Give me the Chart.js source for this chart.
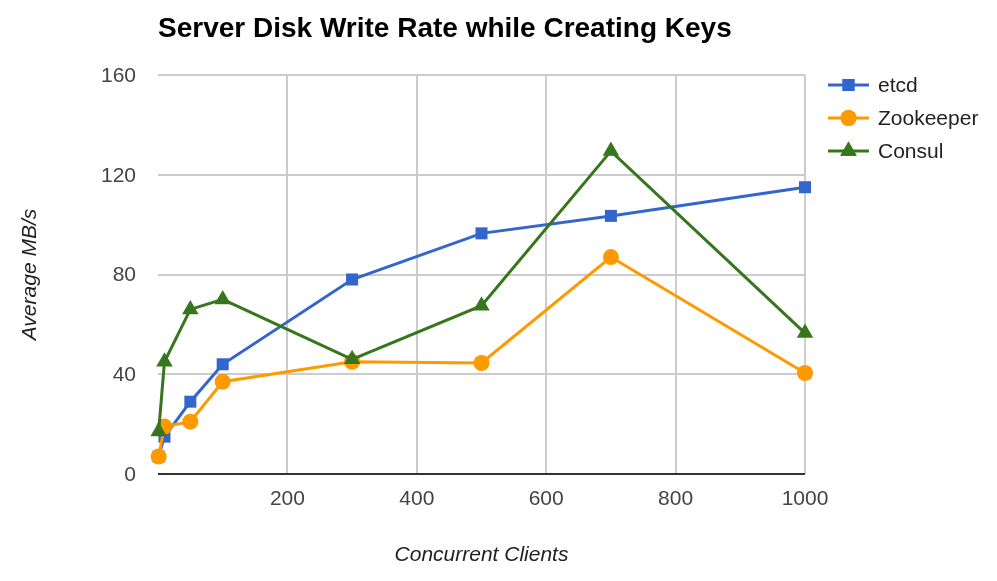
<!DOCTYPE html>
<html>
<head>
<meta charset="utf-8">
<script src="https://cdn.jsdelivr.net/npm/chart.js@4"></script>
<style>
  body { margin: 0; background: #fff; }
  #wrap { width: 997px; height: 581px; }
</style>
</head>
<body>
<div id="wrap"><canvas id="disk" width="997" height="581"></canvas></div>
<script>
// ---------- DATA ----------
const clients = [1, 10, 50, 100, 300, 500, 700, 1000];
const etcd = [7, 15, 29, 44, 78, 96.5, 103.5, 115];
const zookeeper = [7, 19, 21, 37, 45, 44.5, 87, 40.5];
const consul = [17, 45, 66, 70, 46, 67.5, 129.5, 56.5];
const yTicks = [0, 40, 80, 120, 160];
const xTicks = [200, 400, 600, 800, 1000];

const FONT = '"Liberation Sans", Arial, sans-serif';

function pts(vals){
  return vals.map((v, i) => ({ x: clients[i], y: v }));
}

const series = [
  { label: 'etcd', data: etcd, color: '#3366cc', style: 'rect', r: 8.5, order: 2 },
  { label: 'Zookeeper', data: zookeeper, color: '#ff9900', style: 'circle', r: 8, order: 1 },
  { label: 'Consul', data: consul, color: '#38761d', style: 'triangle', r: 9.5, order: 0 }
];

// title, axis titles and legend drawn around the plot area
const extras = {
  id: 'extras',
  afterDraw(chart){
    const ctx = chart.ctx;
    const area = chart.chartArea;
    ctx.save();
    ctx.fillStyle = '#000';
    ctx.font = 'bold 28px ' + FONT;
    ctx.textAlign = 'left';
    ctx.textBaseline = 'alphabetic';
    ctx.fillText('Server Disk Write Rate while Creating Keys', area.left, 37);

    ctx.fillStyle = '#222';
    ctx.font = 'italic 21px ' + FONT;
    ctx.textAlign = 'center';
    ctx.fillText('Concurrent Clients', (area.left + area.right) / 2, 561);
    ctx.translate(36, (area.top + area.bottom) / 2);
    ctx.rotate(-Math.PI / 2);
    ctx.fillText('Average MB/s', 0, 0);
    ctx.restore();

    // legend
    ctx.save();
    series.forEach((s, i) => {
      const y = 85 + i * 33;
      ctx.strokeStyle = s.color;
      ctx.lineWidth = 3;
      ctx.beginPath();
      ctx.moveTo(828, y);
      ctx.lineTo(869, y);
      ctx.stroke();
      ctx.fillStyle = s.color;
      Chart.helpers.drawPoint(ctx, { pointStyle: s.style, radius: s.r, rotation: 0, borderWidth: 0 }, 848.5, y);
      ctx.fill();
      ctx.fillStyle = '#222';
      ctx.font = '21px ' + FONT;
      ctx.textAlign = 'left';
      ctx.textBaseline = 'middle';
      ctx.fillText(s.label, 878, y + 1);
    });
    ctx.restore();
  }
};

new Chart(document.getElementById('disk'), {
  type: 'line',
  data: {
    datasets: series.map(s => ({
      label: s.label,
      data: pts(s.data),
      order: s.order,
      borderColor: s.color,
      backgroundColor: s.color,
      borderWidth: 3,
      pointStyle: s.style,
      pointRadius: s.r,
      pointBorderWidth: 0,
      pointBackgroundColor: s.color,
      tension: 0,
      fill: false,
      clip: false
    }))
  },
  options: {
    responsive: false,
    animation: false,
    events: [],
    layout: { padding: { left: 0, top: 75, right: 192, bottom: 0 } },
    plugins: {
      legend: { display: false },
      title: { display: false },
      tooltip: { enabled: false }
    },
    scales: {
      x: {
        type: 'linear',
        min: 0,
        max: 1000,
        afterFit(scale){ scale.height = 107; },
        afterBuildTicks(scale){ scale.ticks = [0].concat(xTicks).map(v => ({ value: v })); },
        border: { display: false },
        grid: {
          color: ctx => ctx.tick && ctx.tick.value === 0 ? 'rgba(0,0,0,0)' : '#cccccc',
          lineWidth: 2,
          drawTicks: false
        },
        ticks: {
          padding: 13,
          color: '#444',
          font: { family: FONT, size: 21 },
          maxRotation: 0,
          callback: v => v === 0 ? '' : v
        }
      },
      y: {
        min: 0,
        max: 160,
        afterFit(scale){ scale.width = 158; },
        afterBuildTicks(scale){ scale.ticks = yTicks.map(v => ({ value: v })); },
        border: { display: false },
        grid: {
          color: ctx => ctx.tick && ctx.tick.value === 0 ? '#333333' : '#cccccc',
          lineWidth: 2,
          drawTicks: false
        },
        ticks: {
          padding: 22,
          color: '#444',
          font: { family: FONT, size: 21 },
          labelOffset: 1
        }
      }
    }
  },
  plugins: [extras]
});
</script>
</body>
</html>
